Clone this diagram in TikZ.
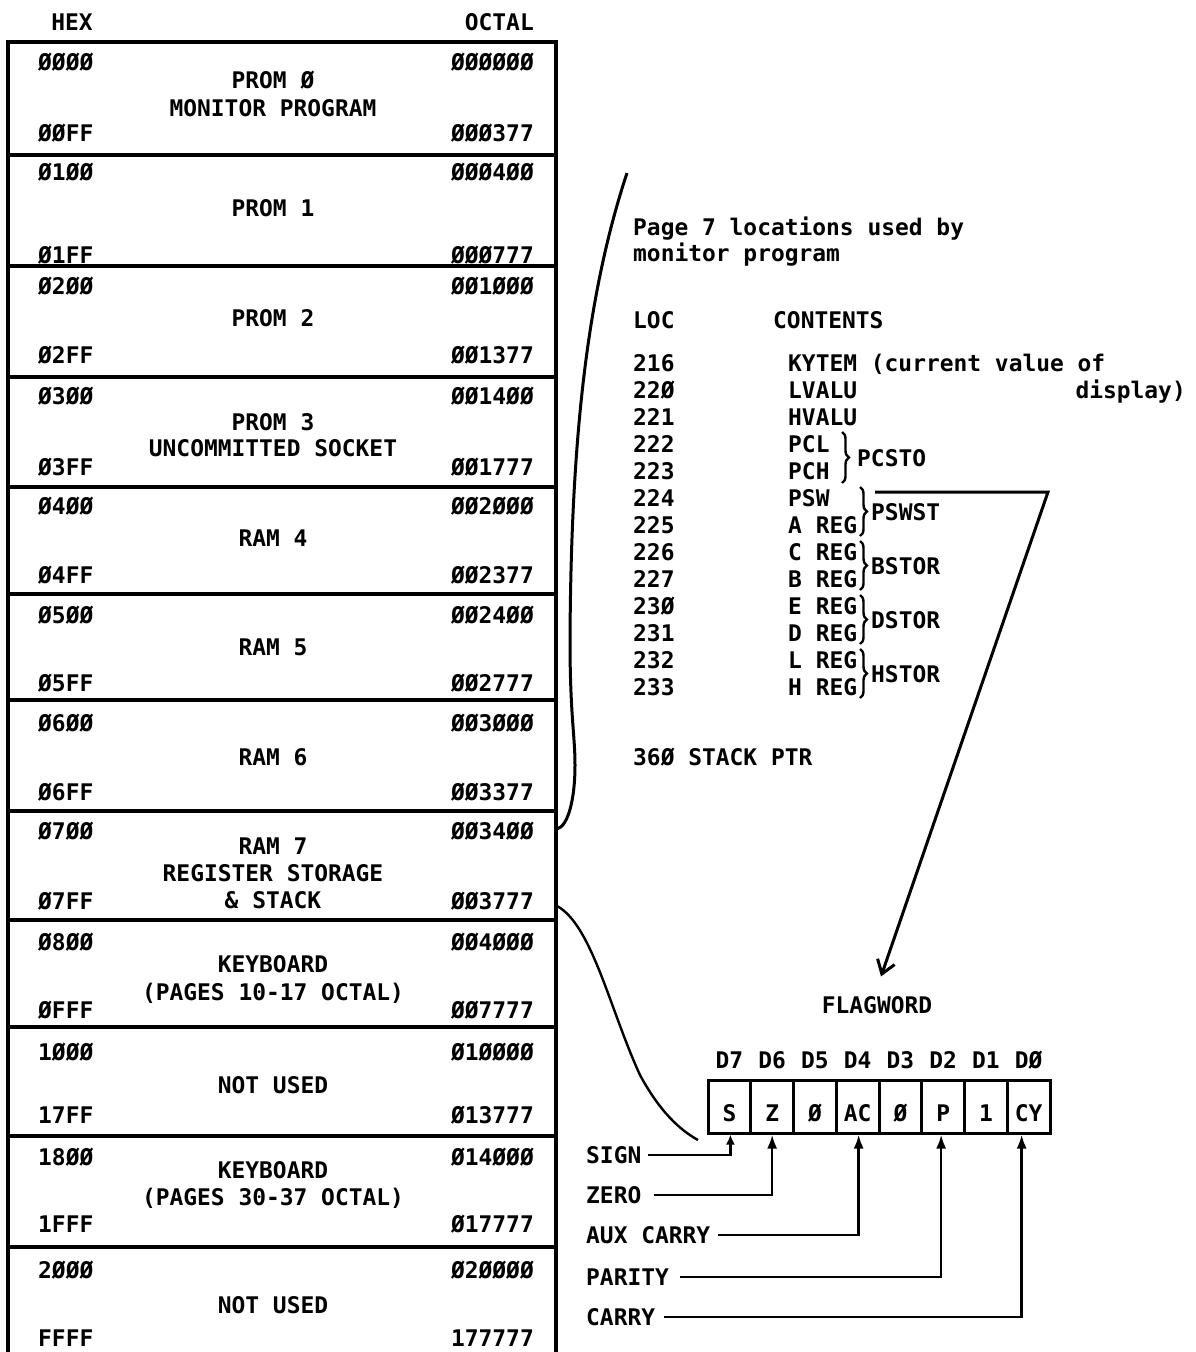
\documentclass[tikz,border=0pt]{standalone}
\usepackage{fontspec}
\newfontfamily\monofnt{DejaVu Sans Mono}
\usetikzlibrary{arrows.meta,decorations.pathreplacing}
\tikzset{
  txt/.style={inner sep=0pt, font=\monofnt\bfseries\fontsize{22.9}{27}\selectfont, text height=16.7pt, text depth=0pt},
  lft/.style={txt, anchor=west},
  rgt/.style={txt, anchor=east},
  ctr/.style={txt, anchor=center},
  border/.style={line width=3.2pt},
  curve/.style={line width=3pt},
  brc/.style={decorate, decoration={brace, amplitude=7pt}, line width=2.4pt},
  flagarrow/.style={line width=2.6pt, -{Latex[length=14pt,width=10pt]}},
  smallarrow/.style={line width=2.6pt, -{Latex[length=10pt,width=9pt]}},
  cellbox/.style={draw, line width=3pt, minimum width=42.75pt, minimum height=53pt, inner sep=0pt},
}
\begin{document}
\begin{tikzpicture}[x=1pt,y=-1pt]
\useasboundingbox[fill=white] (0,0) rectangle (1195,1352);

% ---------- memory map table ----------
\node[ctr] (hexhd) at (72,22) {HEX};
\node[rgt] (octhd) at (534,22) {OCTAL};
\draw[border] (8,1352) -- (8,42) -- (556,42) -- (556,1352);
\foreach \y in {155,266,377,487,594,700,811,920,1027,1136,1247}
  \draw[border] (8,\y) -- (556,\y);

\foreach \n/\y/\h/\o in {
  a/62/ØØØØ/ØØØØØØ, b/133/ØØFF/ØØØ377,
  c/172/Ø1ØØ/ØØØ4ØØ, d/255/Ø1FF/ØØØ777,
  e/286/Ø2ØØ/ØØ1ØØØ, f/355/Ø2FF/ØØ1377,
  g/396/Ø3ØØ/ØØ14ØØ, h/467/Ø3FF/ØØ1777,
  i/506/Ø4ØØ/ØØ2ØØØ, j/575/Ø4FF/ØØ2377,
  k/615/Ø5ØØ/ØØ24ØØ, l/683/Ø5FF/ØØ2777,
  m/723/Ø6ØØ/ØØ3ØØØ, n/792/Ø6FF/ØØ3377,
  o/831/Ø7ØØ/ØØ34ØØ, p/901/Ø7FF/ØØ3777,
  q/942/Ø8ØØ/ØØ4ØØØ, r/1010/ØFFF/ØØ7777,
  s/1052/1ØØØ/Ø1ØØØØ, t/1115/17FF/Ø13777,
  u/1157/18ØØ/Ø14ØØØ, v/1224/1FFF/Ø17777,
  w/1270/2ØØØ/Ø2ØØØØ, x/1338/FFFF/177777}{
  \node[lft] (hx\n) at (38,\y) {\h};
  \node[rgt] (oc\n) at (534,\y) {\o};
}

\node[ctr] (r1a) at (273,80)  {PROM Ø};
\node[ctr] (r1b) at (273,108) {MONITOR PROGRAM};
\node[ctr] (r2a) at (273,208) {PROM 1};
\node[ctr] (r3a) at (273,318) {PROM 2};
\node[ctr] (r4a) at (273,422) {PROM 3};
\node[ctr] (r4b) at (273,448) {UNCOMMITTED SOCKET};
\node[ctr] (r5a) at (273,538) {RAM 4};
\node[ctr] (r6a) at (273,647) {RAM 5};
\node[ctr] (r7a) at (273,757) {RAM 6};
\node[ctr] (r8a) at (273,846) {RAM 7};
\node[ctr] (r8b) at (273,873) {REGISTER STORAGE};
\node[ctr] (r8c) at (273,900) {\& STACK};
\node[ctr] (r9a) at (273,964) {KEYBOARD};
\node[ctr] (r9b) at (273,992) {(PAGES 10-17 OCTAL)};
\node[ctr] (r10a) at (273,1085) {NOT USED};
\node[ctr] (r11a) at (273,1170) {KEYBOARD};
\node[ctr] (r11b) at (273,1197) {(PAGES 30-37 OCTAL)};
\node[ctr] (r12a) at (273,1305) {NOT USED};

% ---------- page 7 listing ----------
\node[lft] (p7a) at (633,227) {Page 7 locations used by};
\node[lft] (p7b) at (633,253) {monitor program};
\node[lft] (lochd) at (633,320) {LOC};
\node[lft] (conthd) at (773,320) {CONTENTS};
\foreach \n/\l/\c [count=\i from 0] in {
  a/216/KYTEM (current value of, b/22Ø/LVALU, c/221/HVALU,
  d/222/PCL, e/223/PCH, f/224/PSW, g/225/A REG,
  h/226/C REG, i/227/B REG, j/23Ø/E REG, k/231/D REG,
  l/232/L REG, m/233/H REG}{
  \node[lft] (loc\n) at (633,{363+27*\i}) {\l};
  \node[lft] (con\n) at (788,{363+27*\i}) {\c};
}
\node[rgt] (disp) at (1186,390) {display)};

\draw[brc] (842,432) -- (842,483);
\node[lft] (pcsto) at (857,458) {PCSTO};
\draw[brc] (860,487) -- (860,536);
\node[lft] (pswst) at (871,512) {PSWST};
\draw[brc] (860,541) -- (860,590);
\node[lft] (bstor) at (871,566) {BSTOR};
\draw[brc] (860,595) -- (860,644);
\node[lft] (dstor) at (871,620) {DSTOR};
\draw[brc] (860,649) -- (860,698);
\node[lft] (hstor) at (871,674) {HSTOR};

\node[lft] (stk) at (633,757) {36Ø STACK PTR};

% ---------- flag word ----------
\node[ctr] (fw) at (877,1005) {FLAGWORD};
\coordinate (pswA) at (875,492);
\coordinate (pswB) at (1048,492);
\draw[line width=3pt, -{Straight Barb[length=13pt,width=18pt,line width=3pt]}]
  (pswA) -- (pswB) -- ([xshift=4pt,yshift=20pt]fw.north);

\foreach \b/\t/\d [count=\i from 0] in {7/S/D7,6/Z/D6,5/Ø/D5,4/AC/D4,3/Ø/D3,2/P/D2,1/1/D1,0/CY/DØ}{
  \node[cellbox] (cell\b) at ({729.4+42.75*\i},1106.5) {};
  \node[ctr] (ct\b) at ([yshift=-7pt]cell\b.center) {\t};
  \node[ctr] (bit\b) at ({729.4+42.75*\i},1060) {\d};
}

\node[lft] (sign) at (586,1155) {SIGN};
\node[lft] (zero) at (586,1195) {ZERO};
\node[lft] (aux)  at (586,1235) {AUX CARRY};
\node[lft] (par)  at (586,1277) {PARITY};
\node[lft] (car)  at (586,1317) {CARRY};

\draw[smallarrow] ([xshift=6pt]sign.east) -| ([xshift=1pt]cell7.south);
\draw[flagarrow] ([xshift=12pt]zero.east) -| (cell6.south);
\draw[flagarrow] ([xshift=8pt]aux.east) -| ([xshift=1pt]cell4.south);
\draw[flagarrow] ([xshift=11pt]par.east) -| ([xshift=-2pt]cell2.south);
\draw[flagarrow] ([xshift=9pt]car.east) -| ([xshift=-7pt]cell0.south);

% ---------- connecting curves ----------
\coordinate (uc0) at (557,829);
\coordinate (uc1) at (627,173);
\draw[curve] (uc0) .. controls (568,826) and (575,800) .. (575,765)
  .. controls (575,735) and (570,715) .. (570,640)
  .. controls (571,450) and (585,300) .. (uc1);
\coordinate (lc0) at (557,906);
\coordinate (lc1) at (698,1140);
\draw[line width=2.4pt] (lc0) .. controls (592,925) and (610,1010) .. (640,1075)
  .. controls (660,1112) and (680,1130) .. (lc1);
\end{tikzpicture}
\end{document}
